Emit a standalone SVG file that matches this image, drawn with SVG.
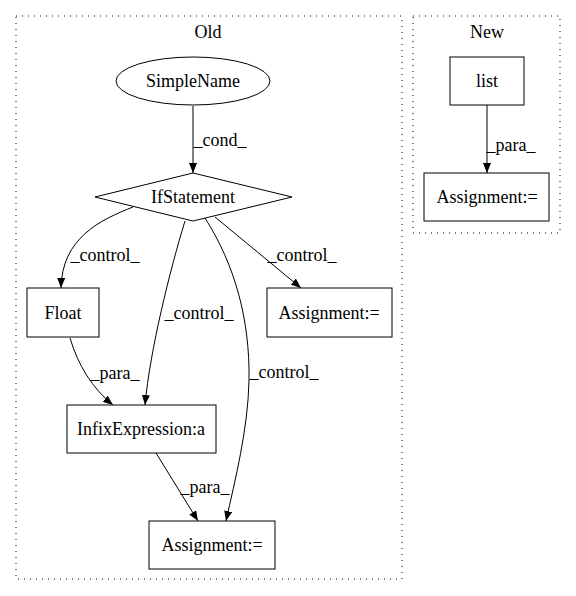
<svg xmlns="http://www.w3.org/2000/svg" width="576" height="596" viewBox="0 0 576 596">
<style>
text{font-family:"Liberation Serif","Times New Roman",serif;font-size:18px;text-anchor:middle;fill:#000}
.n{fill:#fff;stroke:#000;stroke-width:1}
.c{fill:none;stroke:#000;stroke-width:1;stroke-dasharray:1,5}
.e{fill:none;stroke:#000;stroke-width:1;marker-end:url(#a)}
</style>
<defs>
<marker id="a" markerWidth="10" markerHeight="8" refX="10" refY="4" orient="auto" markerUnits="userSpaceOnUse">
<path d="M0,0 L10,4 L0,8 Z" fill="#000"/>
</marker>
</defs>
<rect width="576" height="596" fill="#fff"/>
<g id="cluster_old">
<rect class="c" x="16" y="16" width="386" height="563"/>
<text x="208" y="38">Old</text>
</g>
<g id="cluster_new">
<rect class="c" x="413" y="16" width="147" height="217"/>
<text x="487" y="38">New</text>
</g>
<g id="edges">
<path class="e" d="M193,106 L193,173"/>
<text x="220" y="146">_cond_</text>
<path class="e" d="M133,207 C100,220 62,238 61,288"/>
<text x="105" y="261">_control_</text>
<path class="e" d="M185,221 C170,270 150,350 145,405"/>
<text x="199" y="319">_control_</text>
<path class="e" d="M205,218 C235,265 250,320 249,380 C248,430 235,480 226,521"/>
<text x="284" y="378">_control_</text>
<path class="e" d="M215,217 L301,288"/>
<text x="302" y="261">_control_</text>
<path class="e" d="M70,338 C78,365 92,388 113,405"/>
<text x="115" y="379">_para_</text>
<path class="e" d="M156,453 L198,521"/>
<text x="205" y="493">_para_</text>
<path class="e" d="M487,105 L487,173"/>
<text x="511" y="151">_para_</text>
</g>
<g id="SimpleName">
<ellipse class="n" cx="193" cy="81" rx="77" ry="24"/>
<text x="193" y="87">SimpleName</text>
</g>
<g id="IfStatement">
<polygon class="n" points="193,173 292,197 193,221 95,197"/>
<text x="193" y="203">IfStatement</text>
</g>
<g id="Float">
<rect class="n" x="27" y="288" width="72" height="49"/>
<text x="63" y="319">Float</text>
</g>
<g id="AssignmentRight">
<rect class="n" x="267" y="288" width="125" height="49"/>
<text x="329" y="319">Assignment:=</text>
</g>
<g id="InfixExpression">
<rect class="n" x="67" y="405" width="149" height="48"/>
<text x="141" y="435">InfixExpression:a</text>
</g>
<g id="AssignmentBottom">
<rect class="n" x="149" y="521" width="126" height="48"/>
<text x="212" y="551">Assignment:=</text>
</g>
<g id="list">
<rect class="n" x="450" y="57" width="74" height="48"/>
<text x="487" y="87">list</text>
</g>
<g id="AssignmentNew">
<rect class="n" x="424" y="173" width="125" height="48"/>
<text x="487" y="203">Assignment:=</text>
</g>
</svg>
